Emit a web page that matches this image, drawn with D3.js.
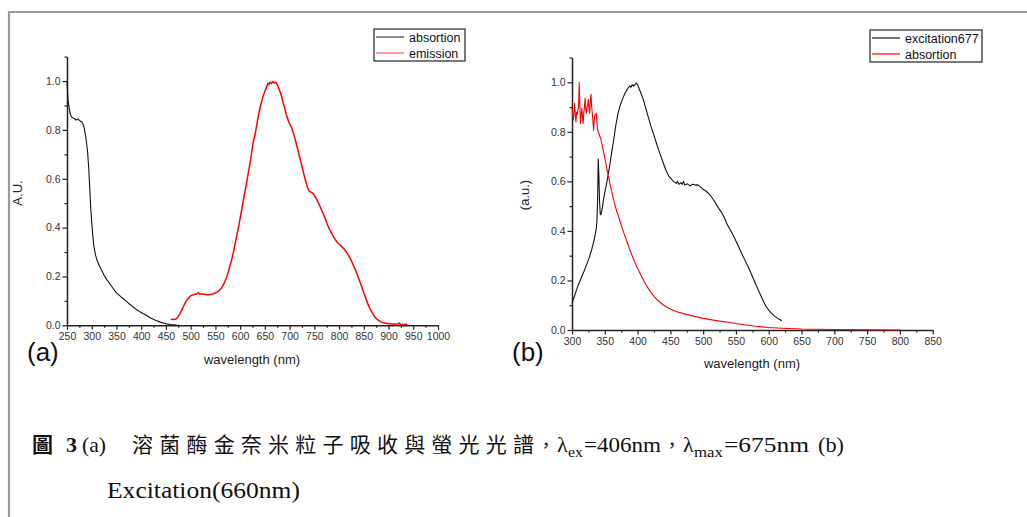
<!DOCTYPE html>
<html><head><meta charset="utf-8">
<script src="https://cdn.jsdelivr.net/npm/d3@7/dist/d3.min.js"></script>
<style>body{margin:0;background:#fff}svg{display:block}</style>
</head><body>
<svg id="c" width="1027" height="517"></svg>
<script>
// ---------- DATA ----------
const xTicksA = [250,300,350,400,450,500,550,600,650,700,750,800,850,900,950,1000];
const xTicksB = [300,350,400,450,500,550,600,650,700,750,800,850];
const yTicks = [0.0,0.2,0.4,0.6,0.8,1.0];

const absorptionA = [[250,1.00],[251,0.96],[252,0.92],[254,0.895],[256,0.87],[258,0.858],[260,0.852],[263,0.848],[266,0.846],[268,0.84],[270,0.843],[272,0.845],[274,0.84],[276,0.838],[278,0.834],[280,0.832],[282,0.826],[284,0.815],[286,0.795],[288,0.77],[290,0.74],[292,0.70],[294,0.64],[296,0.56],[298,0.48],[300,0.42],[302,0.37],[304,0.33],[306,0.305],[308,0.285],[311,0.265],[315,0.245],[320,0.225],[325,0.205],[330,0.188],[340,0.16],[350,0.133],[360,0.115],[370,0.098],[380,0.081],[390,0.065],[400,0.052],[410,0.041],[420,0.029],[430,0.02],[440,0.012],[450,0.006],[460,0.003],[470,0.001],[477,0]];

const emissionA = [[460,0.025],[465,0.024],[470,0.026],[474,0.033],[478,0.047],[482,0.063],[486,0.08],[490,0.096],[494,0.108],[498,0.117],[502,0.123],[506,0.126],[510,0.127],[514,0.13],[516,0.134],[518,0.128],[522,0.128],[526,0.127],[530,0.126],[534,0.125],[538,0.126],[542,0.127],[546,0.129],[550,0.132],[554,0.137],[558,0.143],[562,0.152],[566,0.165],[570,0.183],[574,0.205],[578,0.232],[582,0.262],[586,0.295],[590,0.335],[594,0.375],[598,0.415],[602,0.46],[606,0.505],[610,0.55],[614,0.595],[618,0.64],[622,0.69],[626,0.745],[630,0.78],[634,0.825],[638,0.87],[642,0.905],[646,0.935],[650,0.958],[654,0.978],[656,0.99],[658,0.985],[660,0.995],[663,0.99],[666,0.998],[669,0.992],[672,0.995],[675,0.985],[678,0.97],[681,0.955],[684,0.935],[687,0.91],[690,0.89],[693,0.865],[696,0.845],[700,0.825],[704,0.81],[708,0.785],[712,0.755],[716,0.725],[720,0.69],[724,0.66],[728,0.625],[732,0.595],[736,0.565],[740,0.548],[744,0.545],[748,0.538],[752,0.525],[756,0.51],[760,0.493],[764,0.475],[768,0.457],[772,0.437],[776,0.415],[780,0.396],[784,0.38],[788,0.365],[792,0.352],[796,0.34],[800,0.332],[804,0.325],[808,0.317],[812,0.308],[816,0.297],[820,0.283],[824,0.268],[828,0.25],[832,0.232],[836,0.212],[840,0.19],[844,0.168],[848,0.145],[852,0.122],[856,0.1],[860,0.078],[864,0.062],[868,0.048],[872,0.035],[876,0.026],[880,0.02],[885,0.014],[890,0.01],[895,0.008],[900,0.006],[905,0.005],[910,0.005],[915,0.004],[920,0.005],[922,0.01],[924,0.004],[930,0.003],[935,0.004],[938,0.002]];

const excitationB = [[300,0.11],[303,0.13],[306,0.155],[310,0.185],[314,0.21],[318,0.235],[322,0.262],[326,0.29],[330,0.325],[333,0.355],[335,0.38],[337,0.41],[338,0.44],[339,0.52],[340,0.69],[341,0.62],[342,0.52],[343,0.47],[344,0.465],[346,0.49],[348,0.525],[350,0.555],[353,0.595],[356,0.64],[358,0.672],[361,0.725],[364,0.775],[367,0.83],[370,0.872],[373,0.903],[376,0.925],[379,0.945],[382,0.962],[385,0.975],[388,0.985],[390,0.98],[392,0.99],[394,0.985],[396,0.99],[398,0.998],[400,0.99],[403,0.97],[406,0.95],[409,0.928],[412,0.9],[416,0.862],[420,0.826],[424,0.794],[428,0.76],[432,0.727],[436,0.698],[440,0.668],[444,0.64],[448,0.62],[452,0.608],[456,0.597],[459,0.592],[461,0.6],[463,0.588],[466,0.595],[468,0.588],[470,0.6],[472,0.585],[476,0.59],[480,0.582],[484,0.588],[488,0.585],[492,0.586],[496,0.578],[500,0.568],[504,0.561],[508,0.552],[512,0.54],[516,0.525],[520,0.507],[524,0.49],[528,0.475],[532,0.455],[536,0.43],[540,0.41],[544,0.392],[548,0.37],[552,0.348],[556,0.325],[560,0.302],[564,0.28],[568,0.258],[572,0.235],[576,0.21],[580,0.186],[584,0.162],[588,0.138],[592,0.115],[596,0.095],[600,0.08],[604,0.068],[608,0.058],[612,0.05],[616,0.043],[620,0.037]];

const absorptionB = [[300,0.9],[301,0.87],[302,0.848],[303,0.88],[304,0.915],[305,0.87],[306,0.84],[307,0.88],[308,0.87],[309,0.89],[310,0.9],[311,1.0],[312,0.9],[313,0.834],[314,0.87],[315,0.895],[316,0.86],[317,0.834],[318,0.88],[319,0.9],[320,0.935],[321,0.89],[322,0.875],[323,0.9],[324,0.91],[325,0.93],[326,0.89],[327,0.875],[328,0.93],[329,0.951],[330,0.9],[331,0.875],[332,0.84],[333,0.807],[334,0.85],[335,0.868],[336,0.87],[337,0.875],[338,0.84],[339,0.807],[340,0.8],[342,0.785],[344,0.77],[346,0.745],[348,0.72],[350,0.695],[352,0.668],[354,0.64],[356,0.615],[358,0.59],[361,0.553],[364,0.52],[367,0.49],[370,0.465],[373,0.44],[376,0.415],[380,0.385],[384,0.355],[388,0.325],[392,0.298],[396,0.272],[400,0.248],[405,0.222],[410,0.196],[415,0.173],[420,0.153],[425,0.136],[430,0.122],[435,0.11],[440,0.1],[445,0.092],[450,0.085],[460,0.074],[470,0.066],[480,0.059],[490,0.053],[500,0.047],[520,0.038],[540,0.03],[560,0.022],[580,0.015],[600,0.01],[620,0.007],[650,0.004],[700,0.002],[750,0.001],[800,0]];

const legendA = ["absortion","emission"];
const legendB = ["excitation677","absortion"];

// ---------- DRAW ----------
const svg = d3.select("#c");
svg.append("rect").attr("width",1027).attr("height",517).attr("fill","#fff");
svg.append("line").attr("x1",8).attr("x2",1027).attr("y1",12).attr("y2",12).attr("stroke","#9a9a9a").attr("stroke-width",2.2);
svg.append("line").attr("x1",9).attr("x2",9).attr("y1",11).attr("y2",517).attr("stroke","#9a9a9a").attr("stroke-width",2.2);

const SANS = "Liberation Sans, Arial, sans-serif";

function panel(cfg){
  const x = d3.scaleLinear().domain(cfg.xDomain).range(cfg.xRange);
  const y = d3.scaleLinear().domain([0,1.1]).range(cfg.yRange);
  const g = svg.append("g");
  const minorX = d3.range(cfg.xDomain[0], cfg.xDomain[1]+0.1, 25).filter(v=>v%50!==0);
  const minorY = [0.1,0.3,0.5,0.7,0.9,1.1];
  g.append("g").attr("transform",`translate(0,${cfg.yRange[0]})`)
    .call(d3.axisBottom(x).tickValues(minorX).tickSize(2.5).tickFormat(""))
    .call(a=>a.select(".domain").remove());
  g.append("g").attr("transform",`translate(${cfg.xRange[0]},0)`)
    .call(d3.axisLeft(y).tickValues(minorY).tickSize(2.5).tickFormat(""))
    .call(a=>a.select(".domain").remove());
  const ax = g.append("g").attr("transform",`translate(0,${cfg.yRange[0]})`)
    .call(d3.axisBottom(x).tickValues(cfg.xTicks).tickSize(4.5).tickSizeOuter(0).tickPadding(3).tickFormat(d3.format("d")));
  const ay = g.append("g").attr("transform",`translate(${cfg.xRange[0]},0)`)
    .call(d3.axisLeft(y).tickValues(yTicks).tickSize(4.5).tickSizeOuter(0).tickPadding(2).tickFormat(d3.format(".1f")));
  g.selectAll(".tick line").attr("stroke","#222").attr("stroke-width",1.2);
  g.selectAll(".domain").attr("stroke","#222").attr("stroke-width",1.5);
  g.selectAll(".tick text").attr("font-family",SANS).attr("font-size",10.5).attr("fill","#333");
  ax.selectAll(".tick text").attr("dy","0.72em");
  const line = d3.line().x(d=>x(d[0])).y(d=>y(d[1]));
  cfg.series.forEach(s=>{
    g.append("path").datum(s.data).attr("d",line).attr("fill","none")
      .attr("stroke",s.color).attr("stroke-width",s.w).attr("stroke-linejoin","round");
  });
  g.append("text").attr("x",cfg.xLabelX).attr("y",cfg.xLabelY).attr("text-anchor","middle")
    .attr("font-family",SANS).attr("font-size",13).attr("fill","#222").text("wavelength (nm)");
  g.append("text").attr("transform",`translate(${cfg.yLabelX},${cfg.yLabelY}) rotate(-90)`)
    .attr("text-anchor","middle").attr("font-family",SANS).attr("font-size",13).attr("fill","#222").text(cfg.yLabel);
  g.append("text").attr("x",cfg.letterX).attr("y",cfg.letterY).attr("font-family",SANS)
    .attr("font-size",26).attr("fill","#111").text(cfg.letter);
  const L = cfg.legend;
  g.append("rect").attr("x",L.x).attr("y",L.y).attr("width",L.w).attr("height",L.h)
    .attr("fill","#fff").attr("stroke","#222").attr("stroke-width",1.2);
  L.names.forEach((n,i)=>{
    const yy = L.y + 8 + i*16;
    g.append("line").attr("x1",L.x+2).attr("x2",L.x+30).attr("y1",yy).attr("y2",yy)
      .attr("stroke",L.colors[i]).attr("stroke-width",L.lw);
    g.append("text").attr("x",L.x+35).attr("y",yy+4.5).attr("font-family",SANS)
      .attr("font-size",12.5).attr("fill","#111").text(n);
  });
}

panel({
  xDomain:[250,1000], xRange:[67,438], yRange:[325.3,56.6], xTicks:xTicksA,
  series:[{data:absorptionA,color:"#111",w:1.1},{data:emissionA,color:"#f00",w:1.5}],
  xLabelX:252, xLabelY:364, yLabelX:22, yLabelY:193, yLabel:"A.U.",
  letter:"(a)", letterX:27, letterY:361,
  legend:{x:374,y:29,w:91,h:32,names:legendA,colors:["#666","#ff7a7a"],lw:1.5}
});
panel({
  xDomain:[300,850], xRange:[572,932.7], yRange:[330,57.5], xTicks:xTicksB,
  series:[{data:excitationB,color:"#111",w:1.1},{data:absorptionB,color:"#f00",w:1.1}],
  xLabelX:752, xLabelY:368, yLabelX:529, yLabelY:195, yLabel:"(a.u.)",
  letter:"(b)", letterX:512, letterY:361,
  legend:{x:870,y:30,w:112,h:32,names:legendB,colors:["#111","#f00"],lw:1.2}
});

// ---------- CAPTION ----------
const SERIF = "Liberation Serif, Times New Roman, serif";
const CJK = "Noto Sans CJK TC, Noto Sans CJK SC, sans-serif";
const cap = svg.append("g").attr("fill","#111");
function t(x,y,txt,opt={}){
  const e = cap.append("text").attr("x",x).attr("y",y).text(txt)
    .attr("font-family",opt.ff||SERIF).attr("font-size",opt.fs||22);
  if(opt.bold) e.attr("font-weight","bold");
  if(opt.len) e.attr("textLength",opt.len).attr("lengthAdjust",opt.adj||"spacingAndGlyphs");
  return e;
}
const b1 = 452;
t(32,b1,"圖",{ff:CJK,fs:21,bold:true});
t(66,b1,"3",{fs:22,bold:true});
t(82,b1,"(a)",{fs:21,len:24});
t(132,b1,"溶菌酶金奈米粒子吸收與螢光光譜",{ff:CJK,fs:21,len:402,adj:"spacing"});
t(537,b1,"，",{ff:CJK,fs:18});
t(557,b1,"λ",{fs:22});
t(568,b1+5,"ex",{fs:14,len:15});
t(584,b1,"=406nm",{fs:22,len:77});
t(663,b1,"，",{ff:CJK,fs:18});
t(683,b1,"λ",{fs:22});
t(694,b1+5,"max",{fs:14,len:29});
t(724,b1,"=675nm",{fs:22,len:85});
t(818,b1,"(b)",{fs:21,len:26});
t(107,498,"Excitation(660nm)",{fs:23,len:193});
</script>
</body></html>
